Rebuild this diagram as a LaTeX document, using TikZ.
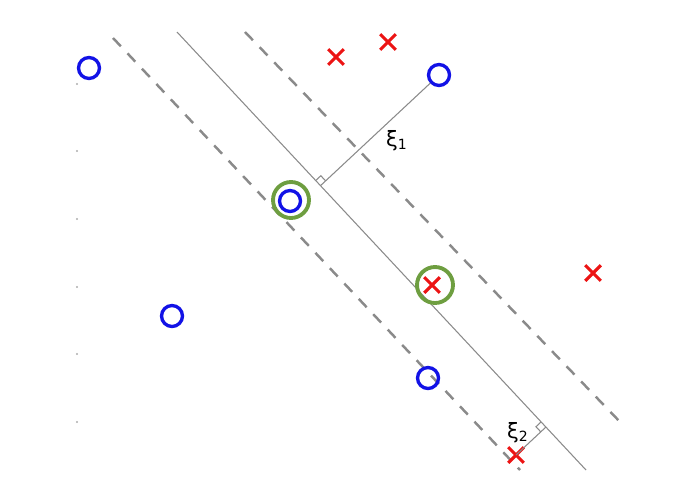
\documentclass[tikz,border=0pt]{standalone}
\usepackage{fontspec}
\setmainfont{DejaVu Sans}
\usepackage{tikz}
\usetikzlibrary{calc,shapes.misc}
\definecolor{ptblue}{HTML}{1212E6}
\definecolor{ptred}{HTML}{EC1414}
\definecolor{svgreen}{HTML}{6E9E40}
\definecolor{lngray}{HTML}{8A8A8A}

\begin{document}
\begin{tikzpicture}[
			x=0.02cm,y=-0.02cm,
			circpt/.style={circle,draw=ptblue,line width=1.9pt,minimum size=0.42cm,inner sep=0pt},
			crosspt/.style={cross out,draw=ptred,line width=1.8pt,minimum size=0.25cm,inner sep=0pt},
			sv/.style={circle,draw=svgreen,line width=2.2pt,minimum size=0.72cm,inner sep=0pt},
			hyp/.style={lngray,line width=0.6pt},
			marg/.style={lngray,line width=1.4pt,dash pattern=on 6.5pt off 5.5pt},
			slack/.style={lngray,line width=0.6pt},
			axdot/.style={circle,fill=lngray!70,inner sep=0pt,minimum size=1.2pt},
			lab/.style={font=\large,inner sep=1pt}
			]
			\useasboundingbox (0,0) rectangle (695,497);
			% axis ticks
			\foreach \y in {84,151,219,287,354,422}
				\node[axdot] at (77,\y) {};
			% separating line and margins
			\coordinate (h1) at (177,32); \coordinate (h2) at (586,470);
			\coordinate (ml1) at (113,38); \coordinate (ml2) at (520,470);
			\coordinate (mr1) at (245,32); \coordinate (mr2) at (623,425);
			\draw[hyp] (h1)--(h2);
			\draw[marg] (ml1)--(ml2);
			\draw[marg] (mr1)--(mr2);
			% support vectors
			\node[sv] (s1) at (291,200) {};
			\node[sv] (s2) at (435,285) {};
			% class o
			\node[circpt] (o1) at (89,68) {};
			\node[circpt] (o2) at (439,75) {};
			\node[circpt] (o3) at (290,201) {};
			\node[circpt] (o4) at (172,316) {};
			\node[circpt] (o5) at (428,378) {};
			% class x
			\node[crosspt] (x1) at (336,57) {};
			\node[crosspt] (x2) at (388,42) {};
			\node[crosspt] (x3) at (593,273) {};
			\node[crosspt] (x4) at (432,285) {};
			\node[crosspt] (x5) at (516,455) {};
			% slack variables
			\coordinate (f1) at ($(h1)!(o2)!(h2)$);
			\coordinate (f2) at ($(h1)!(x5)!(h2)$);
			\draw[slack] (o2)--(f1);
			\draw[slack] (x5.center)--(f2);
			\coordinate (a1) at ($(f1)!4pt!(o2)$); \coordinate (b1) at ($(f1)!4pt!(h1)$);
			\coordinate (a2) at ($(f2)!4pt!(x5)$); \coordinate (b2) at ($(f2)!4pt!(h1)$);
			\draw[slack] (a1) -- ($(a1)+(b1)-(f1)$) -- (b1);
			\draw[slack] (a2) -- ($(a2)+(b2)-(f2)$) -- (b2);
			\node[lab] (l1) at (397,141) {ξ\textsubscript{1}};
			\node[lab] (l2) at (518,433) {ξ\textsubscript{2}};
		\end{tikzpicture}
\end{document}
